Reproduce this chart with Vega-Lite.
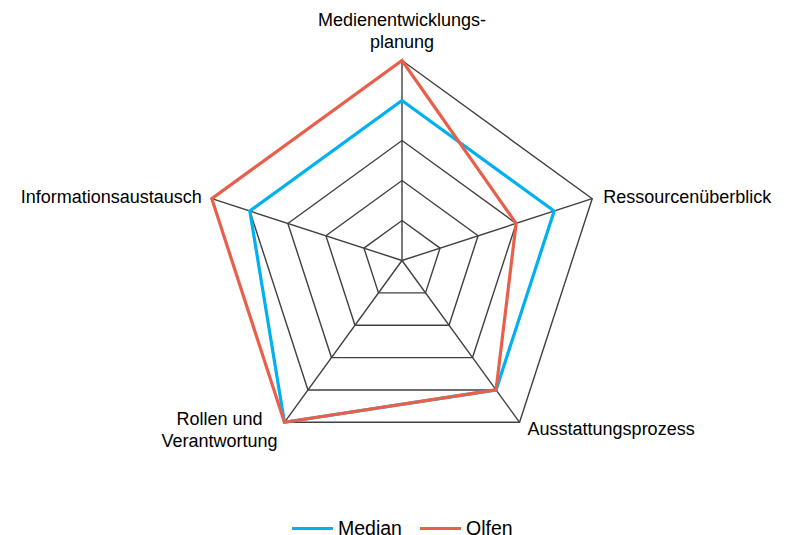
{
  "$schema": "https://vega.github.io/schema/vega-lite/v6.json",
  "width": 788,
  "height": 535,
  "autosize": {"type": "none"},
  "padding": 0,
  "background": "white",
  "config": {"view": {"stroke": null}, "font": "Liberation Sans"},
  "datasets": {
    "axes": [
      {"name": "Medienentwicklungsplanung", "label": "Medienentwicklungs-\nplanung", "i": 0},
      {"name": "Ressourcenüberblick", "label": "Ressourcenüberblick", "i": 1},
      {"name": "Ausstattungsprozess", "label": "Ausstattungsprozess", "i": 2},
      {"name": "Rollen und Verantwortung", "label": "Rollen und\nVerantwortung", "i": 3},
      {"name": "Informationsaustausch", "label": "Informationsaustausch", "i": 4}
    ],
    "grid": [
      {"level": 1, "i": 0}, {"level": 1, "i": 1}, {"level": 1, "i": 2}, {"level": 1, "i": 3}, {"level": 1, "i": 4},
      {"level": 2, "i": 0}, {"level": 2, "i": 1}, {"level": 2, "i": 2}, {"level": 2, "i": 3}, {"level": 2, "i": 4},
      {"level": 3, "i": 0}, {"level": 3, "i": 1}, {"level": 3, "i": 2}, {"level": 3, "i": 3}, {"level": 3, "i": 4},
      {"level": 4, "i": 0}, {"level": 4, "i": 1}, {"level": 4, "i": 2}, {"level": 4, "i": 3}, {"level": 4, "i": 4},
      {"level": 5, "i": 0}, {"level": 5, "i": 1}, {"level": 5, "i": 2}, {"level": 5, "i": 3}, {"level": 5, "i": 4}
    ],
    "values": [
      {"axis": "Medienentwicklungsplanung", "series": "Median", "value": 4},
      {"axis": "Ressourcenüberblick", "series": "Median", "value": 4},
      {"axis": "Ausstattungsprozess", "series": "Median", "value": 4},
      {"axis": "Rollen und Verantwortung", "series": "Median", "value": 5},
      {"axis": "Informationsaustausch", "series": "Median", "value": 4},
      {"axis": "Medienentwicklungsplanung", "series": "Olfen", "value": 5},
      {"axis": "Ressourcenüberblick", "series": "Olfen", "value": 3},
      {"axis": "Ausstattungsprozess", "series": "Olfen", "value": 4},
      {"axis": "Rollen und Verantwortung", "series": "Olfen", "value": 5},
      {"axis": "Informationsaustausch", "series": "Olfen", "value": 5}
    ]
  },
  "encoding": {
    "x": {"field": "x", "type": "quantitative", "scale": {"domain": [-10.05, 9.65], "nice": false, "zero": false}, "axis": null},
    "y": {"field": "y", "type": "quantitative", "scale": {"domain": [-6.8625, 6.5125], "nice": false, "zero": false}, "axis": null}
  },
  "layer": [
    {
      "data": {"name": "grid"},
      "transform": [
        {"calculate": "PI/2 - datum.i*2*PI/5", "as": "theta"},
        {"calculate": "datum.level*cos(datum.theta)", "as": "x"},
        {"calculate": "datum.level*sin(datum.theta)", "as": "y"}
      ],
      "mark": {"type": "line", "interpolate": "linear-closed", "color": "#404040", "strokeWidth": 1.4},
      "encoding": {"detail": {"field": "level", "type": "nominal"}, "order": {"field": "i", "type": "quantitative"}}
    },
    {
      "data": {"name": "axes"},
      "transform": [
        {"calculate": "PI/2 - datum.i*2*PI/5", "as": "theta"},
        {"calculate": "5*cos(datum.theta)", "as": "x"},
        {"calculate": "5*sin(datum.theta)", "as": "y"}
      ],
      "mark": {"type": "rule", "color": "#404040", "strokeWidth": 1.4},
      "encoding": {"x2": {"datum": 0}, "y2": {"datum": 0}}
    },
    {
      "data": {"name": "values"},
      "transform": [
        {"lookup": "axis", "from": {"data": {"name": "axes"}, "key": "name", "fields": ["i"]}},
        {"calculate": "PI/2 - datum.i*2*PI/5", "as": "theta"},
        {"calculate": "datum.value*cos(datum.theta)", "as": "x"},
        {"calculate": "datum.value*sin(datum.theta)", "as": "y"}
      ],
      "mark": {"type": "line", "interpolate": "linear-closed", "strokeWidth": 3.2},
      "encoding": {
        "color": {
          "field": "series", "type": "nominal",
          "scale": {"domain": ["Median", "Olfen"], "range": ["#00B0F0", "#E8604C"]},
          "legend": {
            "title": null, "orient": "none", "direction": "horizontal",
            "legendX": 290, "legendY": 506,
            "symbolType": "stroke", "symbolSize": 1681, "symbolStrokeWidth": 3.2,
            "labelFontSize": 19.5, "labelColor": "#000000", "labelFont": "Liberation Sans",
            "labelOffset": 3, "columnPadding": 11, "padding": 0
          }
        },
        "order": {"field": "i", "type": "quantitative"}
      }
    },
    {
      "data": {"name": "axes"},
      "transform": [
        {"filter": "datum.i == 0"},
        {"calculate": "PI/2 - datum.i*2*PI/5", "as": "theta"},
        {"calculate": "5*cos(datum.theta)", "as": "x"},
        {"calculate": "5*sin(datum.theta)", "as": "y"}
      ],
      "mark": {"type": "text", "align": "center", "baseline": "alphabetic", "dy": -35, "fontSize": 18, "lineBreak": "\n", "lineHeight": 22, "color": "#000000"},
      "encoding": {"text": {"field": "label"}}
    },
    {
      "data": {"name": "axes"},
      "transform": [
        {"filter": "datum.i == 1"},
        {"calculate": "PI/2 - datum.i*2*PI/5", "as": "theta"},
        {"calculate": "5*cos(datum.theta)", "as": "x"},
        {"calculate": "5*sin(datum.theta)", "as": "y"}
      ],
      "mark": {"type": "text", "align": "left", "baseline": "alphabetic", "dx": 11, "dy": 4, "fontSize": 18, "color": "#000000"},
      "encoding": {"text": {"field": "label"}}
    },
    {
      "data": {"name": "axes"},
      "transform": [
        {"filter": "datum.i == 2"},
        {"calculate": "PI/2 - datum.i*2*PI/5", "as": "theta"},
        {"calculate": "5*cos(datum.theta)", "as": "x"},
        {"calculate": "5*sin(datum.theta)", "as": "y"}
      ],
      "mark": {"type": "text", "align": "left", "baseline": "alphabetic", "dx": 8, "dy": 13, "fontSize": 18, "color": "#000000"},
      "encoding": {"text": {"field": "label"}}
    },
    {
      "data": {"name": "axes"},
      "transform": [
        {"filter": "datum.i == 3"},
        {"calculate": "PI/2 - datum.i*2*PI/5", "as": "theta"},
        {"calculate": "5*cos(datum.theta)", "as": "x"},
        {"calculate": "5*sin(datum.theta)", "as": "y"}
      ],
      "mark": {"type": "text", "align": "center", "baseline": "alphabetic", "dx": -65, "dy": 3, "fontSize": 18, "lineBreak": "\n", "lineHeight": 22, "color": "#000000"},
      "encoding": {"text": {"field": "label"}}
    },
    {
      "data": {"name": "axes"},
      "transform": [
        {"filter": "datum.i == 4"},
        {"calculate": "PI/2 - datum.i*2*PI/5", "as": "theta"},
        {"calculate": "5*cos(datum.theta)", "as": "x"},
        {"calculate": "5*sin(datum.theta)", "as": "y"}
      ],
      "mark": {"type": "text", "align": "right", "baseline": "alphabetic", "dx": -10, "dy": 4, "fontSize": 18, "color": "#000000"},
      "encoding": {"text": {"field": "label"}}
    }
  ]
}
